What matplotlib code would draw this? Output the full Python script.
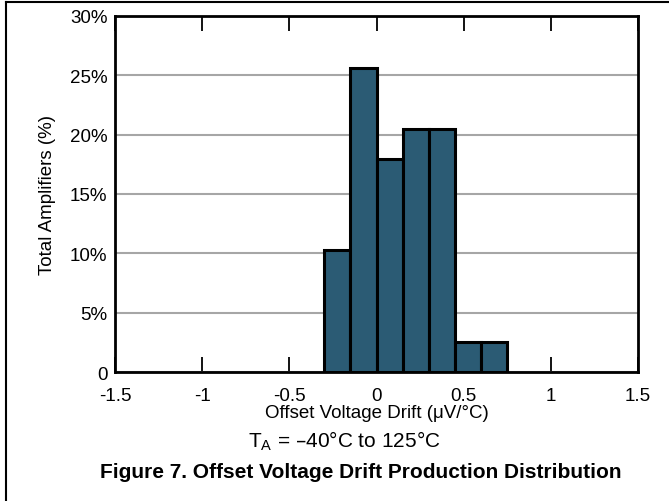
import matplotlib
matplotlib.use("Agg")
import matplotlib.pyplot as plt
from matplotlib.lines import Line2D

plt.rcParams['font.family'] = ['Liberation Sans', 'DejaVu Sans']

bin_left = [-0.30, -0.15, 0.00, 0.15, 0.30, 0.45, 0.60]
bin_width = 0.15
percent = [10.26, 25.64, 17.95, 20.51, 20.51, 2.56, 2.56]
x_ticks = [-1.5, -1, -0.5, 0, 0.5, 1, 1.5]
x_tick_labels = ["-1.5", "-1", "-0.5", "0", "0.5", "1", "1.5"]
y_ticks = [0, 5, 10, 15, 20, 25, 30]
y_tick_labels = ["0", "5%", "10%", "15%", "20%", "25%", "30%"]

fig = plt.figure(figsize=(6.69, 5.02), dpi=100)
ax = fig.add_axes([115/669, 1-373/502, (638-115)/669, (373-17)/502])

ax.bar(bin_left, percent, width=bin_width, align='edge', color='#2b5b74',
       edgecolor='black', linewidth=2.2, zorder=3)

ax.set_xlim(-1.5, 1.5)
ax.set_ylim(0, 30)
ax.set_xticks(x_ticks)
ax.set_xticklabels(x_tick_labels, fontsize=13.5)
ax.set_yticks(y_ticks)
ax.set_yticklabels(y_tick_labels, fontsize=13.5)
ax.yaxis.grid(True, color='#a6a6a6', linewidth=1.5, zorder=0)
ax.set_axisbelow(True)
ax.tick_params(axis='x', which='both', direction='in', top=True, bottom=True,
               length=11, width=1.3, pad=10.5, color='black')
ax.tick_params(axis='y', length=0, pad=5.5)
for s in ax.spines.values():
    s.set_linewidth(2.0)
    s.set_zorder(5)

ax.set_xlabel("Offset Voltage Drift (\u03bcV/\u00b0C)", fontsize=13.5, labelpad=0)
ax.set_ylabel("Total Amplifiers (%)", fontsize=13.5, labelpad=10)

fig.text(344/669, 1 - 441/502, "T$_\\mathregular{A}$ = \u201340\u00b0C to 125\u00b0C",
         ha='center', va='center', fontsize=15)
fig.text(361/669, 1 - 473/502,
         "Figure 7. Offset Voltage Drift Production Distribution",
         ha='center', va='center', fontsize=15, fontweight='bold')

# page border (left and top)
fig.add_artist(Line2D([6/669, 6/669], [0, 1 - 3/502], transform=fig.transFigure,
                      color='black', linewidth=1.5))
fig.add_artist(Line2D([6/669, 1], [1 - 3/502, 1 - 3/502], transform=fig.transFigure,
                      color='black', linewidth=1.5))

fig.savefig("out.png", dpi=100)
